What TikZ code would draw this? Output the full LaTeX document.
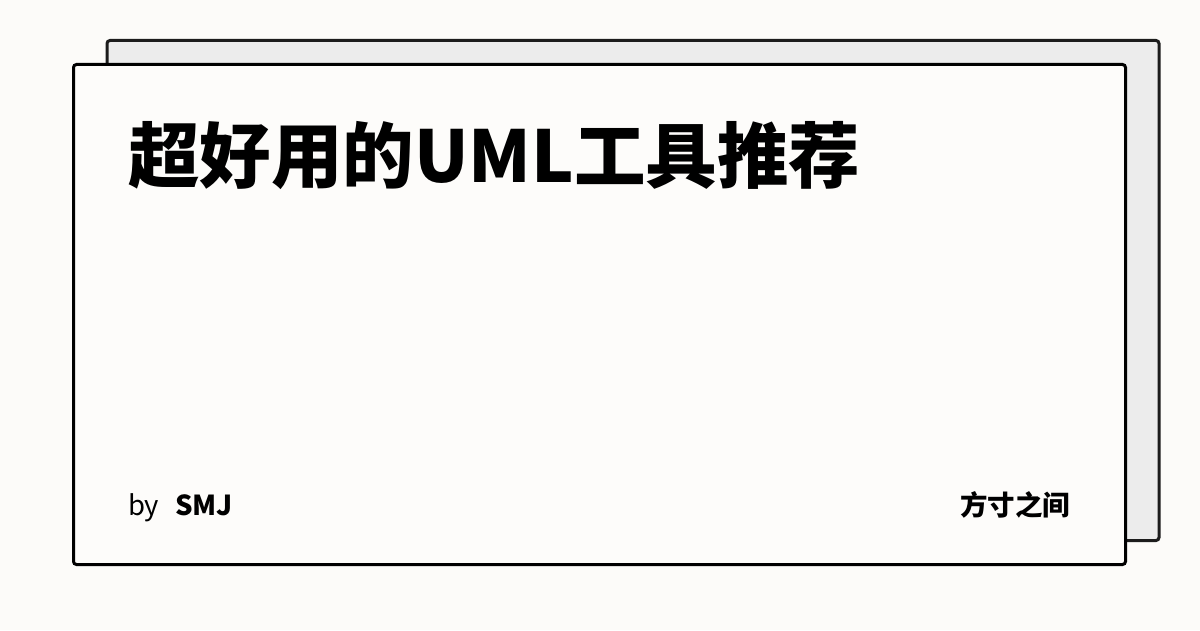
\documentclass[tikz,border=0pt]{standalone}
\usepackage{fontspec}
\setmainfont{Noto Sans CJK SC}
\usepackage{tikz}
\usetikzlibrary{positioning,calc}
\definecolor{paper}{HTML}{FCFBF9}
\definecolor{cardwhite}{HTML}{FDFCFA}
\definecolor{cardgray}{HTML}{ECECEC}
\definecolor{edgegray}{HTML}{1C1C1C}
\tikzset{
  every node/.append style={inner sep=0pt, outer sep=0pt},
  card/.style={draw, rounded corners=3pt, line width=3pt, minimum width=1052pt, minimum height=500pt},
  meta/.style={font=\fontsize{27.5}{32}\selectfont, anchor=base west}
}

\begin{document}
\begin{tikzpicture}[x=1pt, y=1pt,
  title/.style={font=\fontsize{71.5}{80}\selectfont\bfseries, anchor=base west}
]

% page
\fill[paper] (0,0) rectangle (1200,630);
\useasboundingbox (0,0) rectangle (1200,630);

% cards - back one first, front one shifted down-left
\node[card, draw=edgegray, fill=cardgray] (back) at (633,339.5) {};
\node[card, draw=black, fill=cardwhite] (front) at (599.5,315.5) {};

% title
\node[title] (title) at (128,447.5) {超好用的UML工具推荐};

% footer
\node[meta] (by) at (128,115) {by};
\node[meta, font=\fontsize{27.5}{32}\selectfont\bfseries] (author) at ([xshift=16pt]by.base east) {SMJ};
\node[meta, font=\fontsize{27.5}{32}\selectfont\bfseries, anchor=base east] (brand) at (1070,115) {方寸之间};

\end{tikzpicture}
\end{document}
